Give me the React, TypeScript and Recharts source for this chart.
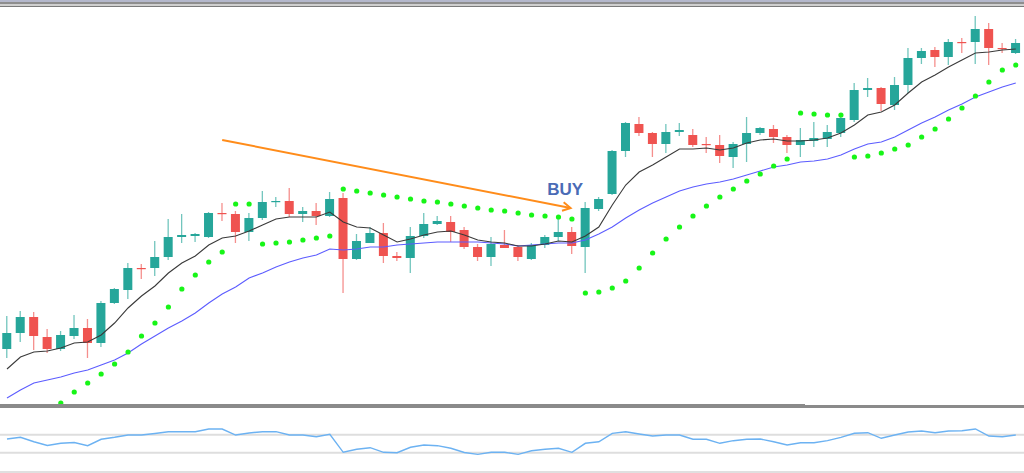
import React from 'react';
import { ComposedChart, Bar, Line, XAxis, YAxis, ReferenceLine, ReferenceDot } from 'recharts';

// price values (chart points)
const opens = [61,77,93,73,61,74,82,67,107,120, 142,142,153,173,174,173,197,196,178,192, 208,209,196,199,194,212,151,167,177,154, 152,174,186,188,180,163,153,165,163,151, 165,173,178,163,201,216,259,286,277,266, 278,275,266,265,253,266,277,281,273,265, 269,271,277,290,320,322,305,325,352,360, 353,368,368,381,362,357];
const closes = [77,93,74,61,75,82,67,107,121,142, 141,153,173,175,176,197,196,178,192,208, 209,196,199,194,211,151,169,177,154,152, 174,186,189,178,163,153,166,162,153,165, 173,178,164,202,211,259,287,277,266,278, 280,265,265,254,266,277,282,273,265,270, 272,278,292,320,322,306,325,352,359,353, 368,367,381,362,361,367];
const highs = [94,99,98,81,79,95,91,109,122,147, 146,169,191,196,177,198,207,199,197,219, 213,222,203,207,218,217,176,183,187,158, 183,197,194,194,183,166,173,180,165,167, 175,194,183,208,213,260,288,293,278,286, 287,281,273,275,268,293,283,285,275,282, 288,285,293,327,332,323,333,362,362,363, 371,372,394,387,367,371];
const lows = [52,68,60,57,59,71,52,63,106,111, 131,134,150,167,168,172,189,167,169,190, 203,193,188,185,193,117,150,167,147,149, 137,172,185,168,161,149,144,162,149,150, 162,169,156,137,199,215,253,274,253,257, 274,263,257,247,242,248,275,267,257,253, 263,263,273,288,313,299,300,317,346,343, 345,357,346,345,357,356];
const maFast = [41,53,58,59,62,67,68,75,87,102, 114,124,137,147,154,165,172,174,179,185, 191,193,193,193,198,188,183,182,175,168, 171,175,178,179,175,170,168,167,164,164, 166,169,168,174,183,205,225,238,245,253, 261,261,262,260,262,267,270,271,269,269, 270,272,277,285,295,298,305,317,328,335, 343,350,357,358,360,361];
const maSlow = [12,20,27,30,33,37,40,45,50,57, 66,74,82,89,97,107,116,123,132,137, 143,148,152,155,161,160,161,163,163,165, 166,167,168,168,168,168,167,166,164,165, 166,167,167,170,176,183,192,200,207,213, 219,223,226,228,231,235,239,243,245,248, 249,251,255,261,266,268,273,280,287,293, 300,306,313,318,323,327];
const sar: (number | null)[] = [null,null,null,null,7,18,27,36,46,58, 74,87,103,121,135,148,158,206,206,166, 167,168,170,172,174,221,219,217,215,213, 211,209,208,206,204,202,200,199,197,195, 194,193,191,117,118,122,129,142,157,171, 183,194,204,213,221,229,236,244,251,297, 296,295,295,253,254,257,261,265,273,281, 291,302,314,328,340,345];
const osc = [60.4,64.2,54.4,46.0,50.9,52.7,45.6,59.8,64.2,69.3, 69.3,72.7,76.7,76.7,76.7,82.7,82.7,69.3,73.8,76.7, 76.7,69.3,69.3,65.6,70.9,30.9,37.6,41.1,30.9,30.0, 42.0,47.1,45.6,39.8,30.4,26.4,30.9,30.9,26.4,34.4, 37.6,39.8,30.9,50.9,54.4,73.1,76.7,71.6,67.1,69.3, 69.3,59.8,59.8,50.9,56.7,59.8,60.4,54.4,47.1,52.2, 52.2,56.7,64.2,73.1,74.4,62.0,69.3,76.0,78.2,74.4, 78.2,78.9,82.7,67.1,65.6,69.3];
const oscLevels = [70, 30];
const arrowFrom = { i: 16, p: 270 };
const arrowTo = { i: 41.9, p: 202 };
const buySignal = { i: 41.5, p: 221, text: 'BUY' };

const data = opens.map((o, i) => ({
  i,
  open: o,
  close: closes[i],
  high: highs[i],
  low: lows[i],
  maFast: maFast[i],
  maSlow: maSlow[i],
  sar: sar[i],
  osc: osc[i],
}));

const TEAL = '#26a69a';
const RED = '#ef5350';
const X_DOMAIN: [number, number] = [-0.52, 75.61];

const Candle = (props: any) => {
  const { x, y, width, height, payload } = props;
  if (x == null || y == null) return null;
  const { open, close, high, low } = payload;
  const up = close >= open;
  const color = up ? TEAL : RED;
  const top = height < 0 ? y + height : y;
  const h = Math.abs(height);
  const ratio = high - low === 0 ? 0 : h / (high - low);
  const bodyTop = top + (high - Math.max(open, close)) * ratio;
  const bodyH = Math.max(1.2, Math.abs(open - close) * ratio);
  const cx = x + width / 2;
  return (
    <g>
      <line x1={cx} x2={cx} y1={top} y2={top + h} stroke={color} strokeOpacity={0.65} strokeWidth={1.3} />
      <rect x={x} y={bodyTop} width={width} height={bodyH} fill={color} />
    </g>
  );
};

const Arrow = (props: any) => {
  const { x1, y1, x2, y2 } = props;
  if ([x1, y1, x2, y2].some((v) => v == null)) return null;
  const ang = Math.atan2(y2 - y1, x2 - x1);
  const L = 9;
  const a = 0.5;
  const p1 = `${x2 - L * Math.cos(ang - a)},${y2 - L * Math.sin(ang - a)}`;
  const p2 = `${x2 - L * Math.cos(ang + a)},${y2 - L * Math.sin(ang + a)}`;
  return (
    <g>
      <line x1={x1} y1={y1} x2={x2} y2={y2} stroke="#ff8c1a" strokeWidth={2} />
      <polyline points={`${p1} ${x2},${y2} ${p2}`} fill="none" stroke="#ff8c1a" strokeWidth={2} />
    </g>
  );
};

const SarDot = (props: any) => {
  const { cx, cy, index } = props;
  if (cx == null || cy == null || Number.isNaN(cy)) return <g key={index} />;
  return <circle key={index} cx={cx} cy={cy} r={2.6} fill="#17f517" />;
};

export default function App() {
  return (
    <div style={{ position: 'absolute', left: 0, top: 0, width: 1024, height: 473, background: '#fff', overflow: 'hidden' }}>
      <div style={{ position: 'absolute', left: 0, top: 0 }}>
        <ComposedChart width={1024} height={405} data={data} margin={{ top: 0, right: 0, bottom: 0, left: 0 }}>
          <XAxis type="number" dataKey="i" domain={X_DOMAIN} allowDataOverflow hide />
          <YAxis type="number" domain={[5, 410]} allowDataOverflow hide />
          <Bar dataKey={(d: any) => [d.low, d.high]} barSize={9} shape={Candle} isAnimationActive={false} />
          <Line type="linear" dataKey="maSlow" stroke="#5c5cff" strokeWidth={1.1} dot={false} isAnimationActive={false} />
          <Line type="linear" dataKey="maFast" stroke="#3a3a3a" strokeWidth={1.1} dot={false} isAnimationActive={false} />
          <Line type="linear" dataKey="sar" stroke="none" dot={SarDot} activeDot={false} isAnimationActive={false} />
          <ReferenceLine
            segment={[{ x: arrowFrom.i, y: arrowFrom.p }, { x: arrowTo.i, y: arrowTo.p }]}
            shape={Arrow}
          />
          <ReferenceDot
            x={buySignal.i}
            y={buySignal.p}
            r={0}
            fill="none"
            stroke="none"
            label={{ value: buySignal.text, position: 'center', fill: '#4a6bb6', fontSize: 17, fontWeight: 'bold', fontFamily: '"Liberation Sans", Arial, sans-serif' }}
          />
        </ComposedChart>
      </div>
      <div style={{ position: 'absolute', left: 0, top: 0, width: 1024, height: 7, background: 'linear-gradient(#b4b8cc 0px, #b4b8cc 2px, #8e8e8e 2px, #8e8e8e 4px, #cfcfcf 4px, #cfcfcf 6px, #7a7a7a 6px, #7a7a7a 7px)' }} />
      <div style={{ position: 'absolute', left: 0, top: 404, width: 805, height: 4, background: '#8a8a8a' }} />
      <div style={{ position: 'absolute', left: 805, top: 405, width: 219, height: 3, background: '#8a8a8a' }} />
      <div style={{ position: 'absolute', left: 0, top: 407 }}>
        <ComposedChart width={1024} height={66} data={data} margin={{ top: 0, right: 0, bottom: 0, left: 0 }}>
          <XAxis type="number" dataKey="i" domain={X_DOMAIN} allowDataOverflow hide />
          <YAxis type="number" domain={[-15.11, 131.56]} allowDataOverflow hide />
          {oscLevels.map((lv) => (
            <ReferenceLine key={lv} y={lv} stroke="#dedede" strokeWidth={2} />
          ))}
          <Line type="linear" dataKey="osc" stroke="#6cb2f2" strokeWidth={1.4} dot={false} isAnimationActive={false} />
        </ComposedChart>
      </div>
      <div style={{ position: 'absolute', left: 0, top: 471, width: 1024, height: 2, background: '#e0e0e0' }} />
    </div>
  );
}
